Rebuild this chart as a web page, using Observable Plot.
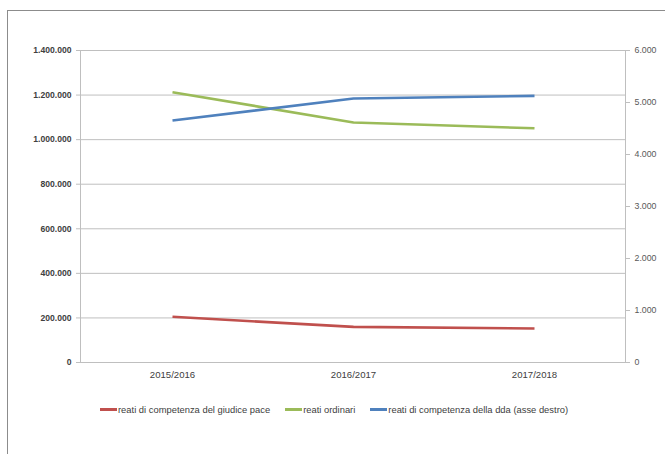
<!DOCTYPE html>
<html>
<head>
<meta charset="utf-8">
<script src="https://cdn.jsdelivr.net/npm/d3@7"></script>
<script src="https://cdn.jsdelivr.net/npm/@observablehq/plot@0.6"></script>
<style>
  html, body { margin: 0; padding: 0; background: #fff; overflow: hidden; }
  body { width: 665px; height: 454px; position: relative; font-family: "Liberation Sans", Arial, sans-serif; }
  #frame { position: absolute; left: 7px; top: 10px; width: 700px; height: 500px;
           border-left: 1px solid #8c8c8c; border-top: 1px solid #8c8c8c; pointer-events: none; }
  #chart { position: absolute; left: 0; top: 0; }
  #legend { position: absolute; left: 100px; top: 404px; display: flex; align-items: center;
            font-size: 9.4px; color: #404040; white-space: nowrap; }
  #legend .item { display: flex; align-items: center; margin-right: 15px; }
  #legend .swatch { width: 17px; height: 3px; margin-right: 1px; }
</style>
</head>
<body>
<div id="frame"></div>
<div id="chart"></div>
<div id="legend"></div>
<script>
// Anni giudiziari
const years = ["2015/2016", "2016/2017", "2017/2018"];

// Serie sull'asse sinistro
const giudicePace = [205000, 160000, 152500];
const ordinari = [1213000, 1077000, 1051000];

// Serie sull'asse destro
const dda = [4654, 5077, 5128];

const seriesNames = [
  "reati di competenza del giudice pace",
  "reati ordinari",
  "reati di competenza della dda (asse destro)"
];
const seriesColors = ["#c0504d", "#9bbb59", "#4f81bd"];

// Tick dei due assi
const leftTicks = [0, 200000, 400000, 600000, 800000, 1000000, 1200000, 1400000];
const rightTicks = [0, 1000, 2000, 3000, 4000, 5000, 6000];

const leftMax = 1400000, rightMax = 6000;
const k = leftMax / rightMax; // conversione asse destro -> asse sinistro

const it = d3.formatLocale({decimal: ",", thousands: ".", grouping: [3], currency: ["", " €"]});
const fmt = it.format(",");

const rows = [];
years.forEach((y, i) => {
  rows.push({year: y, value: giudicePace[i], series: seriesNames[0]});
  rows.push({year: y, value: ordinari[i], series: seriesNames[1]});
  rows.push({year: y, value: dda[i] * k, series: seriesNames[2]});
});

const chart = Plot.plot({
  width: 665,
  height: 392,
  marginLeft: 80,
  marginRight: 40,
  marginTop: 50,
  marginBottom: 30,
  style: {fontFamily: "'Liberation Sans', Arial, sans-serif", background: "transparent"},
  x: {type: "point", domain: years, padding: 0.5},
  y: {domain: [0, leftMax]},
  color: {domain: seriesNames, range: seriesColors},
  marks: [
    Plot.ruleY(leftTicks, {stroke: "#bfbfbf", strokeWidth: 1}),
    Plot.frame({stroke: "#bfbfbf", anchor: "left"}),
    Plot.frame({stroke: "#bfbfbf", anchor: "right"}),
    Plot.axisY(leftTicks, {
      anchor: "left", tickSize: 4, tickPadding: 5, stroke: "#bfbfbf",
      tickFormat: fmt, fontSize: 8.6, fontWeight: "bold", fill: "#404040", label: null
    }),
    Plot.axisY(rightTicks.map(v => v * k), {
      anchor: "right", tickSize: 4, tickPadding: 5, stroke: "#bfbfbf",
      tickFormat: d => fmt(Math.round(d / k)), fontSize: 8.8, fill: "#595959", label: null
    }),
    Plot.axisX({tickSize: 0, tickPadding: 9, fontSize: 9.6, fill: "#404040", label: null}),
    Plot.line(rows, {
      x: "year", y: "value", z: "series", stroke: "series",
      strokeWidth: 2.6, strokeLinejoin: "round", strokeLinecap: "butt"
    })
  ]
});
document.getElementById("chart").appendChild(chart);

const legend = document.getElementById("legend");
seriesNames.forEach((name, i) => {
  const item = document.createElement("div");
  item.className = "item";
  const sw = document.createElement("span");
  sw.className = "swatch";
  sw.style.background = seriesColors[i];
  const label = document.createElement("span");
  label.textContent = name;
  item.appendChild(sw);
  item.appendChild(label);
  legend.appendChild(item);
});
</script>
</body>
</html>
